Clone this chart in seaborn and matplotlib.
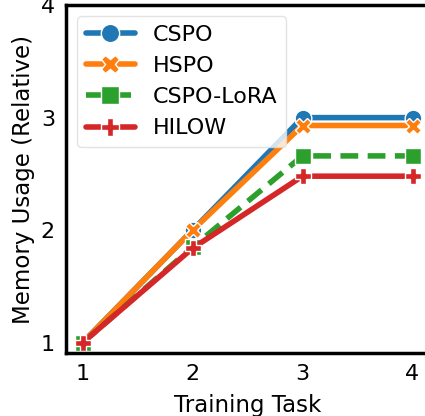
import matplotlib
matplotlib.use("Agg")
import matplotlib.pyplot as plt
import seaborn as sns
import pandas as pd

tasks = [1, 2, 3, 4]
cspo = [1.0, 2.0, 3.0, 3.0]
hspo = [1.0, 2.0, 2.93, 2.93]
cspo_lora = [1.0, 1.85, 2.66, 2.66]
hilow = [1.0, 1.84, 2.48, 2.48]
methods = ["CSPO", "HSPO", "CSPO-LoRA", "HILOW"]

rows = []
for name, vals in zip(methods, [cspo, hspo, cspo_lora, hilow]):
    for t, v in zip(tasks, vals):
        rows.append({"Training Task": t, "Memory": v, "Method": name})
df = pd.DataFrame(rows)

sns.set_theme(style="white")
plt.rcParams['font.family'] = ['DejaVu Sans']
plt.rcParams['text.color'] = 'black'
plt.rcParams['axes.labelcolor'] = 'black'
plt.rcParams['xtick.color'] = 'black'
plt.rcParams['ytick.color'] = 'black'

fig = plt.figure(figsize=(4.25, 4.16), dpi=100)
ax = fig.add_axes([66/425, (416-353)/416, 363/425, 348/416])

palette = dict(zip(methods, sns.color_palette("tab10", 4)))
markers = {"CSPO": "o", "HSPO": "X", "CSPO-LoRA": "s", "HILOW": "P"}
dashes = {"CSPO": "", "HSPO": "", "CSPO-LoRA": (3.2, 1.7), "HILOW": ""}

sns.lineplot(data=df, x="Training Task", y="Memory", hue="Method", style="Method",
             hue_order=methods, style_order=methods, palette=palette,
             markers=markers, dashes=dashes, linewidth=4, markersize=12,
             markeredgecolor="white", markeredgewidth=1, ax=ax)

ax.set_xlim(0.85, 4.15)
ax.set_ylim(0.91, 4.0)
ax.set_xticks(tasks)
ax.set_yticks([1, 2, 3, 4])
ax.tick_params(labelsize=16, pad=2, colors="black")
ax.set_xlabel("Training Task", fontsize=16.5, labelpad=7, color="black")
ax.set_ylabel("Memory Usage (Relative)", fontsize=16.5, color="black")
for s in ax.spines.values():
    s.set_color("black")
    s.set_linewidth(2.5)

leg = ax.legend(loc="upper left", fontsize=16, frameon=True, handlelength=2.2,
                borderaxespad=0.5, markerscale=1.1)
leg.get_frame().set_edgecolor("#dddddd")
for t in leg.get_texts():
    t.set_color("black")

fig.savefig("out.png", dpi=100)
